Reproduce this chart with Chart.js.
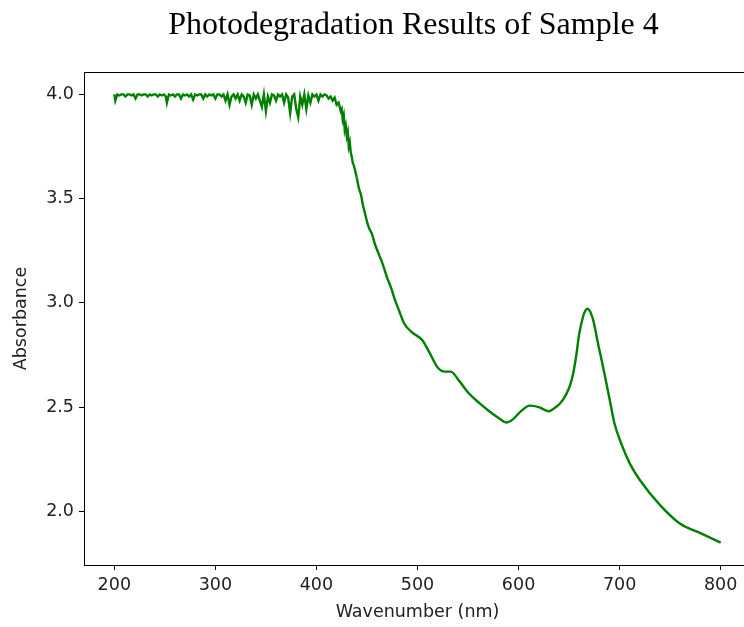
<!DOCTYPE html>
<html>
<head>
<meta charset="utf-8">
<title>Photodegradation Results of Sample 4</title>
<script src="https://cdn.jsdelivr.net/npm/chart.js@4"></script>
<style>
  html, body { margin: 0; padding: 0; background: #fff; overflow: hidden; }
  #wrap { width: 760px; height: 627px; }
</style>
</head>
<body>
<div id="wrap"><canvas id="spectrum" width="760" height="627"></canvas></div>
<script>
// Saturated / noisy part of the scan, 200-440 nm (drawn with straight segments)
const noisyWavelengths = [
  200, 201, 203, 205, 207, 209, 211, 213, 215, 217, 219, 221, 223, 225, 227, 229,
  231, 233, 235, 237, 239, 241, 243, 245, 247, 249, 251, 252, 254, 256, 258, 260,
  262, 264, 266, 268, 270, 272, 274, 276, 278, 280, 282, 284, 286, 288, 290, 292,
  294, 296, 298, 300, 302, 304, 306, 308, 310, 312, 314, 316, 318, 320, 322, 324,
  326, 328, 330, 332, 334, 336, 338, 340, 342, 344, 346, 348, 350, 352, 354, 356,
  358, 360, 362, 364, 366, 368, 370, 372, 374, 376, 378, 380, 382, 384, 386, 388,
  390, 392, 394, 396, 398, 400, 402, 404, 406, 408, 410, 412, 414, 416, 418, 420,
  422, 424, 425, 426, 427, 428, 429, 430, 431, 432, 433, 434, 435, 436, 437, 438,
  439, 440
];
const noisyAbsorbance = [
  4.00, 3.97, 4.00, 3.995, 4.00, 4.00, 3.99, 4.00, 4.00, 3.995, 4.00, 3.98, 4.00, 4.00, 3.995, 4.00,
  4.00, 3.99, 4.00, 3.995, 4.00, 4.00, 3.99, 4.00, 3.995, 4.00, 3.99, 3.96, 4.00, 3.995, 4.00, 3.99,
  4.00, 4.00, 3.98, 4.00, 3.995, 4.00, 3.99, 4.00, 3.975, 4.00, 3.995, 4.00, 4.00, 3.98, 4.00, 3.99,
  4.00, 3.995, 4.00, 3.98, 4.00, 4.00, 3.99, 4.00, 3.97, 4.00, 3.95, 3.99, 4.00, 3.98, 4.00, 3.97,
  4.00, 3.99, 3.96, 4.00, 3.995, 3.95, 4.00, 3.98, 4.00, 3.97, 3.94, 4.00, 3.92, 3.99, 3.96, 4.00,
  3.995, 3.97, 4.00, 3.99, 4.00, 3.96, 4.00, 3.985, 3.91, 3.99, 4.00, 3.93, 3.89, 3.99, 3.95, 4.00,
  3.93, 3.995, 3.96, 4.00, 3.99, 4.00, 3.97, 4.00, 3.99, 4.00, 3.995, 3.98, 3.99, 3.97, 3.985, 3.95,
  3.96, 3.92, 3.93, 3.88, 3.90, 3.83, 3.85, 3.80, 3.82, 3.75, 3.77, 3.72, 3.70, 3.67, 3.66, 3.64,
  3.62, 3.60
];

// Smooth part of the scan, 440-800 nm
const smoothWavelengths = [
  440, 442, 444, 446, 448, 450, 452, 455, 458, 462, 466, 470, 474, 478, 482, 487,
  495, 505, 512, 520, 527, 533, 541, 551, 561, 571, 581, 588, 594, 603, 611, 620,
  626, 630, 634, 641, 647, 651, 654, 657, 660, 664, 666, 668, 670, 672, 674, 676,
  678, 682, 685, 690, 695, 702, 710, 720, 740, 760, 780, 800
];
const smoothAbsorbance = [
  3.60, 3.55, 3.52, 3.47, 3.43, 3.39, 3.36, 3.33, 3.28, 3.23, 3.18, 3.12, 3.07, 3.01, 2.96, 2.90,
  2.857, 2.82, 2.76, 2.69, 2.67, 2.67, 2.627, 2.565, 2.52, 2.48, 2.445, 2.426, 2.44, 2.483, 2.507, 2.50,
  2.486, 2.480, 2.49, 2.517, 2.56, 2.605, 2.66, 2.745, 2.85, 2.937, 2.962, 2.972, 2.965, 2.945, 2.915, 2.87,
  2.82, 2.73, 2.66, 2.54, 2.42, 2.32, 2.23, 2.15, 2.03, 1.94, 1.895, 1.85
];

// Tick labels
const xTicks = [200, 300, 400, 500, 600, 700, 800];
const yTicks = [2.0, 2.5, 3.0, 3.5, 4.0];

const toPoints = (xs, ys) => xs.map((w, i) => ({ x: w, y: ys[i] }));

// frame around the plot area + the title over it
const framePlugin = {
  id: 'frame',
  afterDraw(chart) {
    const { ctx, chartArea: a } = chart;
    ctx.save();
    ctx.strokeStyle = '#000';
    ctx.lineWidth = 1;
    ctx.strokeRect(a.left + 0.5, a.top + 0.5, a.right - a.left, a.bottom - a.top);
    ctx.fillStyle = '#000';
    ctx.font = '32px "Liberation Serif", "Times New Roman", serif';
    ctx.textAlign = 'center';
    ctx.textBaseline = 'middle';
    ctx.fillText('Photodegradation Results of Sample 4', (a.left + a.right) / 2 - 4, 26);
    ctx.restore();
  }
};

const tickFont = { family: 'DejaVu Sans', size: 17.5 };
const green = '#008000';

new Chart('spectrum', {
  type: 'line',
  data: {
    datasets: [{
      label: 'Sample 4 (noisy)',
      data: toPoints(noisyWavelengths, noisyAbsorbance),
      borderColor: green,
      borderWidth: 2.4,
      pointRadius: 0,
      tension: 0,
      fill: false
    }, {
      label: 'Sample 4',
      data: toPoints(smoothWavelengths, smoothAbsorbance),
      borderColor: green,
      borderWidth: 2.4,
      pointRadius: 0,
      cubicInterpolationMode: 'monotone',
      fill: false
    }]
  },
  options: {
    responsive: false,
    animation: false,
    layout: { padding: { top: 72, right: 9, left: 0, bottom: 0 } },
    plugins: {
      legend: { display: false },
      tooltip: { enabled: false }
    },
    scales: {
      x: {
        type: 'linear',
        min: 170,
        max: 830,
        afterFit: (s) => { s.height = 62; },
        afterBuildTicks: (s) => { s.ticks = xTicks.map(v => ({ value: v })); },
        grid: { display: true, drawOnChartArea: false, drawTicks: true, tickLength: 5, color: '#000' },
        border: { display: true, color: '#000' },
        ticks: { color: '#222', font: tickFont, padding: 5, maxRotation: 0 },
        title: { display: true, text: 'Wavenumber (nm)', color: '#222', font: tickFont, padding: { top: 0, bottom: 4 } }
      },
      y: {
        min: 1.7425,
        max: 4.1075,
        afterFit: (s) => { s.width = 84; },
        afterBuildTicks: (s) => { s.ticks = yTicks.map(v => ({ value: v })); },
        grid: { display: true, drawOnChartArea: false, drawTicks: true, tickLength: 5, color: '#000' },
        border: { display: true, color: '#000' },
        ticks: { color: '#222', font: tickFont, padding: 5, callback: (v) => v.toFixed(1) },
        title: { display: true, text: 'Absorbance', color: '#222', font: tickFont, padding: { top: 11, bottom: 0 } }
      }
    }
  },
  plugins: [framePlugin]
});
</script>
</body>
</html>
